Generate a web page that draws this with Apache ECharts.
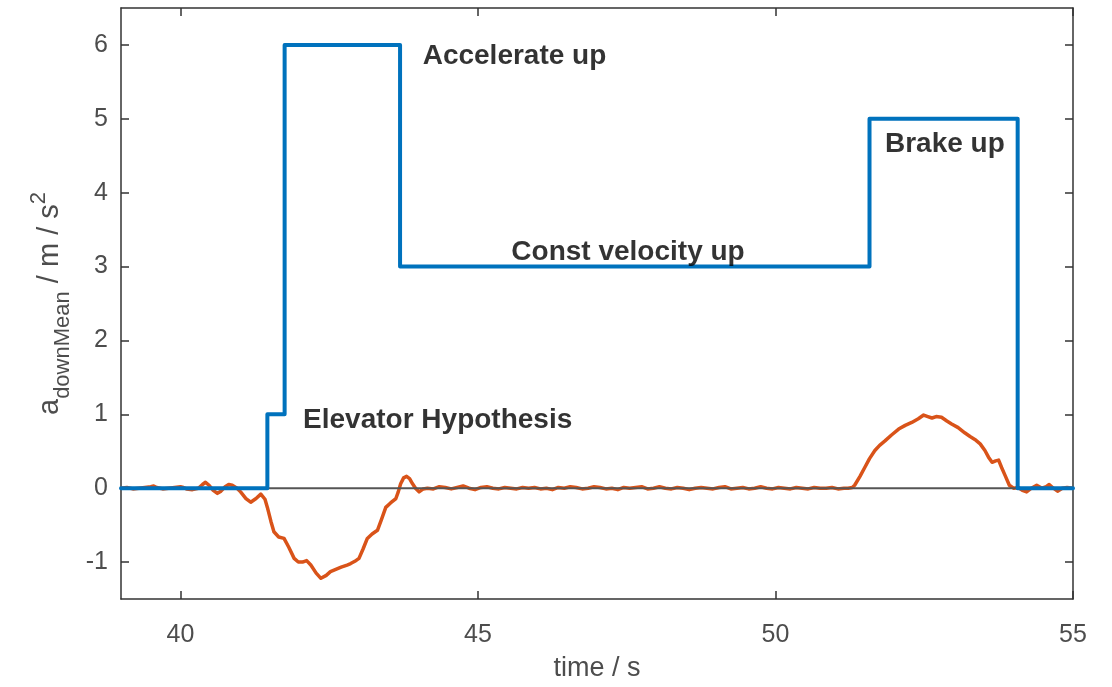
<!DOCTYPE html>
<html>
<head>
<meta charset="utf-8">
<script src="https://cdn.jsdelivr.net/npm/echarts@6/dist/echarts.min.js"></script>
<style>html,body{margin:0;padding:0;background:#fff;}#c{width:1112px;height:687px;}</style>
</head>
<body>
<div id="c"></div>
<script>
// Hypothesis (blue step) — [time, value]
const hypothesis = [
  [39, 0], [41.46, 0], [41.46, 1], [41.75, 1], [41.75, 6], [43.69, 6],
  [43.69, 3], [51.58, 3], [51.58, 5], [54.07, 5], [54.07, 0], [55, 0]
];
// Measured a_downMean (orange) — [time, value]
const measured = [
  [39.0,0.00],[39.1,0.01],[39.2,-0.01],[39.3,0.00],[39.4,0.01],[39.5,0.02],[39.55,0.03],[39.6,0.01],[39.7,-0.01],[39.8,0.00],
  [39.9,0.01],[40.0,0.02],[40.05,0.01],[40.1,-0.01],[40.2,-0.02],[40.3,0.00],[40.37,0.05],[40.42,0.08],[40.48,0.04],[40.55,-0.03],
  [40.62,-0.07],[40.68,-0.04],[40.75,0.02],[40.81,0.05],[40.87,0.04],[40.95,0.00],[41.01,-0.05],[41.1,-0.14],[41.18,-0.19],[41.27,-0.14],
  [41.35,-0.08],[41.42,-0.15],[41.46,-0.26],[41.52,-0.45],[41.57,-0.59],[41.65,-0.66],[41.74,-0.68],[41.82,-0.80],[41.91,-0.95],[41.98,-1.00],
  [42.05,-1.00],[42.12,-0.98],[42.19,-1.04],[42.28,-1.15],[42.36,-1.22],[42.45,-1.18],[42.52,-1.13],[42.58,-1.11],[42.70,-1.07],[42.80,-1.04],
  [42.86,-1.02],[42.93,-0.99],[43.00,-0.95],[43.07,-0.82],[43.14,-0.68],[43.22,-0.62],[43.31,-0.57],[43.38,-0.42],[43.45,-0.26],[43.53,-0.20],
  [43.62,-0.14],[43.66,-0.05],[43.70,0.06],[43.75,0.14],[43.80,0.16],[43.85,0.13],[43.90,0.06],[43.95,0.00],[44.01,-0.05],[44.08,-0.01],
  [44.15,0.00],[44.25,-0.01],[44.35,0.02],[44.45,0.01],[44.55,-0.01],[44.65,0.01],[44.75,0.03],[44.85,0.00],[44.95,-0.02],[45.05,0.01],
  [45.15,0.02],[45.25,0.00],[45.35,-0.01],[45.45,0.01],[45.55,0.00],[45.65,-0.01],[45.75,0.01],[45.85,0.00],[45.95,0.01],[46.05,-0.01],
  [46.15,0.00],[46.25,-0.02],[46.35,0.01],[46.45,0.00],[46.55,0.02],[46.65,0.01],[46.75,-0.01],[46.85,0.00],[46.95,0.02],[47.05,0.01],
  [47.15,-0.01],[47.25,0.00],[47.35,-0.02],[47.45,0.01],[47.55,0.00],[47.65,0.01],[47.75,0.02],[47.85,-0.01],[47.95,0.00],[48.05,0.02],
  [48.15,0.00],[48.25,-0.01],[48.35,0.01],[48.45,0.00],[48.55,-0.02],[48.65,0.00],[48.75,0.01],[48.85,0.00],[48.95,-0.01],[49.05,0.01],
  [49.15,0.02],[49.25,-0.01],[49.35,0.00],[49.45,0.01],[49.55,-0.01],[49.65,0.00],[49.75,0.02],[49.85,0.00],[49.95,-0.01],[50.05,0.01],
  [50.15,0.00],[50.25,-0.01],[50.35,0.01],[50.45,0.00],[50.55,-0.01],[50.65,0.01],[50.75,0.00],[50.85,0.00],[50.95,0.01],[51.05,-0.01],
  [51.15,0.00],[51.22,0.00],[51.29,0.01],[51.33,0.04],[51.42,0.16],[51.50,0.28],[51.58,0.40],[51.67,0.51],[51.75,0.58],[51.84,0.64],
  [51.95,0.72],[52.07,0.80],[52.18,0.85],[52.29,0.89],[52.40,0.94],[52.49,0.99],[52.56,0.97],[52.63,0.95],[52.70,0.97],[52.79,0.96],
  [52.88,0.91],[52.96,0.87],[53.07,0.82],[53.18,0.75],[53.27,0.70],[53.35,0.66],[53.44,0.60],[53.52,0.51],[53.58,0.42],[53.64,0.35],
  [53.70,0.37],[53.75,0.38],[53.80,0.28],[53.86,0.17],[53.93,0.04],[54.00,0.00],[54.08,0.01],[54.15,-0.03],[54.22,-0.05],[54.30,0.00],
  [54.39,0.04],[54.48,0.00],[54.55,0.02],[54.60,0.05],[54.67,0.00],[54.74,-0.04],[54.82,0.00],[54.90,0.01],[55.00,0.00]
];
const zeroLine = [[39, 0], [55, 0]];
const xTicks = [40, 45, 50, 55];
const yTicks = [-1, 0, 1, 2, 3, 4, 5, 6];
const annotations = [
  {name: 'Accelerate up', value: [44.07, 5.84]},
  {name: 'Const velocity up', value: [45.56, 3.20]},
  {name: 'Brake up', value: [51.84, 4.66]},
  {name: 'Elevator Hypothesis', value: [42.06, 0.92]}
];

const axisColor = '#333333';
const labelColor = '#4d4d4d';
const font = '"Liberation Sans", Arial, Helvetica, sans-serif';

const chart = echarts.init(document.getElementById('c'), null, {renderer: 'canvas'});
const baseX = {
  type: 'value', min: 39, max: 55, splitLine: {show: false},
  axisLine: {show: true, onZero: false, lineStyle: {color: axisColor, width: 1.5}},
  axisTick: {show: true, inside: true, length: 8, customValues: xTicks, lineStyle: {color: axisColor, width: 1.5}}
};
const baseY = {
  type: 'value', min: -1.5, max: 6.5, splitLine: {show: false},
  axisLine: {show: true, onZero: false, lineStyle: {color: axisColor, width: 1.5}},
  axisTick: {show: true, inside: true, length: 8, customValues: yTicks, lineStyle: {color: axisColor, width: 1.5}}
};
chart.setOption({
  animation: false,
  backgroundColor: '#ffffff',
  grid: {left: 121, right: 39, top: 8, bottom: 85, containLabel: false},
  xAxis: [
    Object.assign({}, baseX, {
      position: 'bottom',
      axisLabel: {show: true, customValues: xTicks, margin: 24, fontSize: 25, color: labelColor, fontFamily: font},
      name: 'time / s', nameLocation: 'middle', nameGap: 56,
      nameTextStyle: {fontSize: 27, color: labelColor, fontFamily: font}
    }),
    Object.assign({}, baseX, {position: 'top', axisLabel: {show: false}})
  ],
  yAxis: [
    Object.assign({}, baseY, {
      position: 'left',
      axisLabel: {show: true, customValues: yTicks, margin: 13, fontSize: 25, color: labelColor, fontFamily: font},
      name: '{a|a}{sub|downMean}{a| / m / s}{sup|2}', nameLocation: 'middle', nameGap: 47, nameRotate: 90,
      nameTextStyle: {
        color: labelColor, fontFamily: font, fontSize: 29,
        rich: {
          a: {fontSize: 29, color: labelColor, fontFamily: font},
          sub: {fontSize: 22, color: labelColor, fontFamily: font, padding: [26, 0, 0, 0]},
          sup: {fontSize: 22, color: labelColor, fontFamily: font, padding: [0, 0, 22, 0]}
        }
      }
    }),
    Object.assign({}, baseY, {position: 'right', axisLabel: {show: false}})
  ],
  series: [
    {
      type: 'line', name: 'measured', data: measured, xAxisIndex: 0, yAxisIndex: 0,
      showSymbol: false, smooth: false, z: 2,
      lineStyle: {color: '#D95319', width: 3.5, join: 'round'}
    },
    {
      type: 'line', name: 'zero', data: zeroLine, showSymbol: false, z: 3,
      lineStyle: {color: '#555555', width: 2}
    },
    {
      type: 'line', name: 'hypothesis', data: hypothesis, showSymbol: false, z: 4,
      lineStyle: {color: '#0072BD', width: 4, join: 'round', cap: 'round'}
    },
    {
      type: 'scatter', name: 'annotations', data: annotations, symbolSize: 0, z: 5,
      label: {
        show: true, position: 'right', distance: 0, formatter: '{b}',
        fontSize: 28, fontWeight: 'bold', color: '#000', fontFamily: font,
        align: 'left', verticalAlign: 'middle', textBorderWidth: 0
      }
    }
  ]
});
</script>
</body>
</html>
